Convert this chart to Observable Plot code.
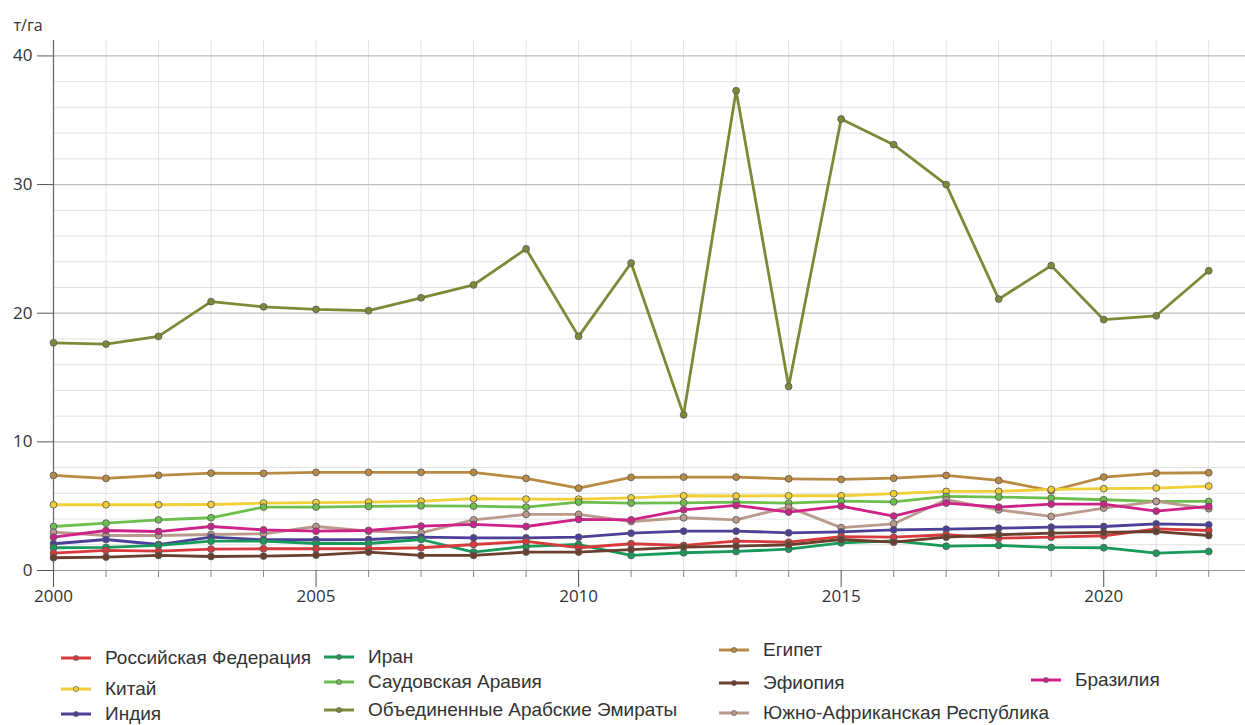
<!DOCTYPE html>
<html>
<head>
<meta charset="utf-8">
<script src="https://cdn.jsdelivr.net/npm/d3@7"></script>
<script src="https://cdn.jsdelivr.net/npm/@observablehq/plot@0.6"></script>
<style>
  html, body { margin: 0; padding: 0; background: #ffffff; }
  #wrap { position: relative; width: 1245px; height: 725px; }
  #legend { position: absolute; left: 0; top: 620px; width: 1245px; height: 105px; font-family: "Liberation Sans", Arial, sans-serif; font-size: 19px; color: #333; }
  .item { position: absolute; display: flex; align-items: center; white-space: nowrap; }
  .item svg { margin-right: 13px; }
</style>
</head>
<body>
<div id="wrap"><div id="chart"></div><div id="legend"></div></div>
<script>
const years = [2000,2001,2002,2003,2004,2005,2006,2007,2008,2009,2010,2011,2012,2013,2014,2015,2016,2017,2018,2019,2020,2021,2022];
const seriesNames = ["Российская Федерация","Китай","Индия","Иран","Саудовская Аравия","Объединенные Арабские Эмираты","Египет","Эфиопия","Южно-Африканская Республика","Бразилия"];
const seriesColors = ["#d83a3c","#f2cf35","#4c3f98","#179a5a","#6cbf4c","#7c8a38","#b98b42","#6a3f2d","#b99a8c","#cf2289"];

const russia   = [1.35,1.56,1.5,1.66,1.69,1.69,1.69,1.77,2.02,2.26,1.77,2.08,1.95,2.28,2.2,2.63,2.59,2.78,2.51,2.59,2.7,3.24,3.11];
const china    = [5.11,5.11,5.11,5.13,5.24,5.28,5.32,5.39,5.58,5.55,5.55,5.65,5.81,5.79,5.81,5.81,5.97,6.15,6.15,6.3,6.36,6.41,6.56];
const india    = [2.08,2.41,2.02,2.59,2.39,2.39,2.41,2.59,2.54,2.54,2.59,2.9,3.06,3.06,2.93,3.0,3.16,3.21,3.29,3.37,3.42,3.63,3.55];
const iran     = [1.77,1.8,1.95,2.28,2.28,2.1,2.1,2.41,1.43,1.87,2.02,1.17,1.38,1.48,1.66,2.15,2.3,1.89,1.95,1.79,1.77,1.35,1.48];
const saudi    = [3.42,3.68,3.94,4.1,4.93,4.93,4.98,5.03,5.0,4.93,5.32,5.24,5.26,5.32,5.24,5.4,5.34,5.76,5.71,5.63,5.5,5.37,5.37];
const uae      = [17.7,17.6,18.2,20.9,20.5,20.3,20.2,21.2,22.2,25.0,18.2,23.9,12.1,37.3,14.3,35.1,33.1,30.0,21.1,23.7,19.5,19.8,23.3];
const egypt    = [7.39,7.16,7.4,7.57,7.55,7.63,7.63,7.63,7.63,7.16,6.4,7.24,7.26,7.26,7.13,7.08,7.18,7.39,7.0,6.2,7.26,7.57,7.6];
const ethiopia = [0.99,1.04,1.17,1.09,1.12,1.2,1.43,1.17,1.17,1.43,1.43,1.63,1.82,1.89,2.0,2.41,2.2,2.59,2.78,2.9,2.96,3.03,2.72];
const zar      = [2.98,2.72,2.72,2.8,2.85,3.42,3.06,2.93,3.94,4.36,4.36,3.81,4.1,3.94,4.93,3.33,3.63,5.5,4.72,4.2,4.85,5.37,4.8];
const brazil   = [2.59,3.11,3.03,3.42,3.16,3.06,3.11,3.45,3.58,3.42,3.97,3.94,4.72,5.06,4.54,5.0,4.23,5.24,4.93,5.16,5.16,4.62,4.98];

const yLabelTicks = [0,10,20,30,40];
const yMinorGrid = [2,4,6,8,12,14,16,18,22,24,26,28,32,34,36,38];
const xLabelTicks = [2000,2005,2010,2015,2020];
const xMinorTicks = [2001,2002,2003,2004,2006,2007,2008,2009,2011,2012,2013,2014,2016,2017,2018,2019,2021,2022];
const unitLabel = "т/га";

const allSeries = [russia, china, india, iran, saudi, uae, egypt, ethiopia, zar, brazil];
const data = [];
allSeries.forEach((arr, i) => arr.forEach((v, j) => data.push({series: seriesNames[i], year: years[j], value: v})));

// draw order (bottom to top)
const drawOrder = ["Объединенные Арабские Эмираты","Египет","Китай","Саудовская Аравия","Южно-Африканская Республика","Бразилия","Индия","Иран","Российская Федерация","Эфиопия"];
const ordered = drawOrder.flatMap(n => data.filter(d => d.series === n));

const axisFont = "'Open Sans', 'Noto Sans', sans-serif";

const chart = Plot.plot({
  width: 1245,
  height: 620,
  marginLeft: 53,
  marginRight: 0,
  marginTop: 40,
  marginBottom: 50,
  style: {fontFamily: axisFont, fontSize: "17px", color: "#333", background: "#ffffff"},
  x: {domain: [2000, 2022.7], axis: null},
  y: {domain: [0, 41.2], axis: null},
  color: {domain: seriesNames, range: seriesColors},
  marks: [
    Plot.ruleY(yMinorGrid, {stroke: "#e2e2e2", strokeWidth: 1}),
    Plot.ruleX(years, {stroke: "#e2e2e2", strokeWidth: 1}),
    Plot.ruleY(yLabelTicks, {stroke: "#bdbdbd", strokeWidth: 1.2}),
    Plot.ruleY([0], {stroke: "#9a9a9a", strokeWidth: 1}),
    Plot.ruleX([2000], {stroke: "#666", strokeWidth: 1.2}),
    Plot.axisY({ticks: yLabelTicks, tickSize: 16, tickFormat: () => "", label: null, stroke: "#555"}),
    Plot.axisX({ticks: xLabelTicks, tickSize: 17, tickFormat: () => "", label: null, stroke: "#555"}),
    Plot.axisX({ticks: xMinorTicks, tickSize: 7, tickFormat: () => "", label: null, stroke: "#888"}),
    Plot.text(yLabelTicks, {y: d => d, text: d => String(d), frameAnchor: "left", dx: -21, textAnchor: "end", fontSize: 17, fontFamily: axisFont, fill: "#333"}),
    Plot.text(xLabelTicks, {x: d => d, text: d => String(d), frameAnchor: "bottom", dy: 31, fontSize: 17, fontFamily: axisFont, fill: "#333"}),
    Plot.text([unitLabel], {frameAnchor: "top-left", dx: -40, dy: -21, textAnchor: "start", fontSize: 16, fontFamily: axisFont, fill: "#333"}),
    Plot.line(ordered, {x: "year", y: "value", z: "series", stroke: "series", strokeWidth: 2.8, strokeLinejoin: "round"}),
    Plot.dot(ordered, {x: "year", y: "value", fill: "series", stroke: "#5a5a5a", strokeOpacity: 0.85, strokeWidth: 1, r: 3.4})
  ]
});
document.getElementById("chart").appendChild(chart);

// legend
const legendPos = [
  {name: "Российская Федерация", x: 60, y: 658},
  {name: "Китай", x: 60, y: 689},
  {name: "Индия", x: 60, y: 714},
  {name: "Иран", x: 323, y: 657},
  {name: "Саудовская Аравия", x: 323, y: 682},
  {name: "Объединенные Арабские Эмираты", x: 323, y: 710},
  {name: "Египет", x: 718, y: 650},
  {name: "Эфиопия", x: 718, y: 683},
  {name: "Южно-Африканская Республика", x: 718, y: 713},
  {name: "Бразилия", x: 1030, y: 680}
];
const legend = document.getElementById("legend");
legendPos.forEach(p => {
  const color = seriesColors[seriesNames.indexOf(p.name)];
  const div = document.createElement("div");
  div.className = "item";
  div.style.left = p.x + "px";
  div.style.top = (p.y - 620 - 11) + "px";
  div.style.height = "22px";
  div.innerHTML = `<svg width="32" height="10"><line x1="1" x2="31" y1="5" y2="5" stroke="${color}" stroke-width="3"/><circle cx="16" cy="5" r="2.6" fill="${color}" stroke="#5a5a5a" stroke-opacity="0.8" stroke-width="0.8"/></svg><span>${p.name}</span>`;
  legend.appendChild(div);
});
</script>
</body>
</html>
